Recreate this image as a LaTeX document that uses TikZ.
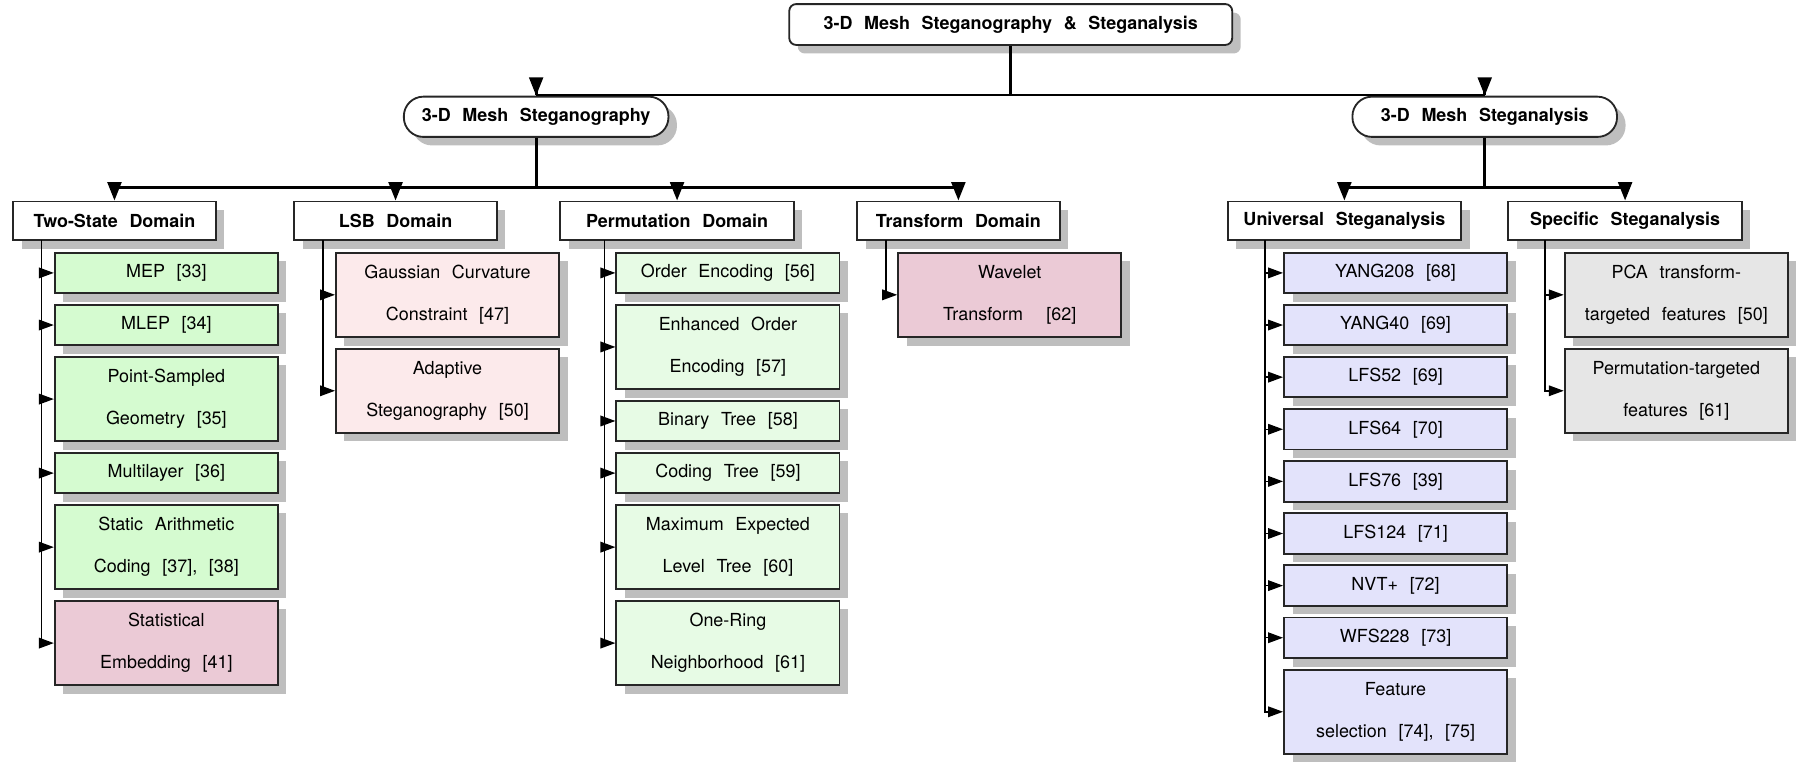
\documentclass[tikz,border=0pt]{standalone}
\usepackage{fontspec}
\setmainfont{TeX Gyre Heros}
\usetikzlibrary{arrows.meta,shadows}
\definecolor{tsgreen}{RGB}{213,251,208}
\definecolor{permgreen}{RGB}{231,251,229}
\definecolor{lsbpink}{RGB}{252,234,235}
\definecolor{mauve}{RGB}{235,202,214}
\definecolor{lav}{RGB}{227,227,251}
\definecolor{lgray}{RGB}{230,230,230}
\definecolor{shadowgray}{RGB}{190,190,190}
\newcommand{\mynodefont}{\fontsize{7.8}{18.25}\selectfont\frenchspacing\spaceskip=0.65em\relax}
\tikzset{
  boxbase/.style={draw=black!85, line width=0.8pt, inner sep=0pt, align=center,
    font=\mynodefont,
    drop shadow={shadow xshift=3.7pt, shadow yshift=-3.7pt, fill=shadowgray, opacity=1}},
  rootbox/.style={boxbase, fill=white, rounded corners=3pt, minimum width=192.5pt,
    minimum height=17.75pt, font=\mynodefont\bfseries},
  pill/.style={boxbase, fill=white, rounded corners=8.5pt, minimum width=115pt,
    minimum height=17.5pt, font=\mynodefont\bfseries},
  catS/.style={boxbase, fill=white, minimum width=88pt, minimum height=16.9pt,
    font=\mynodefont\bfseries},
  catL/.style={catS, minimum width=101.5pt},
  leafS/.style={boxbase, minimum width=97pt, minimum height=17.6pt},
  leafD/.style={boxbase, minimum width=97pt, minimum height=36.65pt},
  mainline/.style={line width=1.2pt, black},
  mainarrow/.style={mainline, -{Triangle[length=8pt,width=6pt]}},
  leafarrow/.style={line width=0.65pt, black, -{Triangle[length=6.5pt,width=4.6pt]}}
}
\begin{document}
\begin{tikzpicture}[x=0.5pt,y=-0.5pt]
\useasboundingbox (0,0) rectangle (1568,671);

% root and level 1
\node[rootbox] (root) at (878.5,21.3) {3-D Mesh Steganography \& Steganalysis};
\node[pill] (stego) at (466,101.5) {3-D Mesh Steganography};
\node[pill] (ana) at (1290.5,101.5) {3-D Mesh Steganalysis};

% level 2
\node[catS] (ts) at (99.5,192) {Two-State Domain};
\node[catS] (lsb) at (343.8,192) {LSB Domain};
\node[catL] (perm) at (588.5,192) {Permutation Domain};
\node[catS] (tr) at (833,192) {Transform Domain};
\node[catL] (uni) at (1168.5,192) {Universal Steganalysis};
\node[catL] (spec) at (1412.5,192) {Specific Steganalysis};

% Two-State leaves
\node[leafS, fill=tsgreen] (mep) at (144.6,237.2) {MEP [33]};
\node[leafS, fill=tsgreen] (mlep) at (144.6,282.5) {MLEP [34]};
\node[leafD, fill=tsgreen] (psg) at (144.6,346.85) {Point-Sampled\\Geometry [35]};
\node[leafS, fill=tsgreen] (ml) at (144.6,411.2) {Multilayer [36]};
\node[leafD, fill=tsgreen] (sac) at (144.6,475.55) {Static Arithmetic\\Coding [37], [38]};
\node[leafD, fill=mauve] (se) at (144.6,558.95) {Statistical\\Embedding [41]};

% LSB leaves
\node[leafD, fill=lsbpink] (gcc) at (389,256.25) {Gaussian Curvature\\Constraint [47]};
\node[leafD, fill=lsbpink] (ads) at (389,339.65) {Adaptive\\Steganography [50]};

% Permutation leaves
\node[leafS, fill=permgreen] (oe) at (632.7,237.2) {Order Encoding [56]};
\node[leafD, fill=permgreen] (eoe) at (632.7,301.55) {Enhanced Order\\Encoding [57]};
\node[leafS, fill=permgreen] (bt) at (632.7,365.9) {Binary Tree [58]};
\node[leafS, fill=permgreen] (ct) at (632.7,411.2) {Coding Tree [59]};
\node[leafD, fill=permgreen] (mel) at (632.7,475.55) {Maximum Expected\\Level Tree [60]};
\node[leafD, fill=permgreen] (orn) at (632.7,558.95) {One-Ring\\Neighborhood [61]};

% Transform leaf
\node[leafD, fill=mauve] (wt) at (877.6,256.25) {Wavelet\\Transform\ \ [62]};

% Universal leaves
\node[leafS, fill=lav] (y208) at (1213,237.2) {YANG208 [68]};
\node[leafS, fill=lav] (y40) at (1213,282.5) {YANG40 [69]};
\node[leafS, fill=lav] (l52) at (1213,327.8) {LFS52 [69]};
\node[leafS, fill=lav] (l64) at (1213,373.1) {LFS64 [70]};
\node[leafS, fill=lav] (l76) at (1213,418.4) {LFS76 [39]};
\node[leafS, fill=lav] (l124) at (1213,463.7) {LFS124 [71]};
\node[leafS, fill=lav] (nvt) at (1213,509.0) {NVT+ [72]};
\node[leafS, fill=lav] (w228) at (1213,554.3) {WFS228 [73]};
\node[leafD, fill=lav] (fs) at (1213,618.65) {Feature\\selection [74], [75]};

% Specific leaves
\node[leafD, fill=lgray] (pca) at (1457,256.25) {PCA transform-\\targeted features [50]};
\node[leafD, fill=lgray] (ptf) at (1457,339.65) {Permutation-targeted\\features [61]};

% junctions
\coordinate (j0) at (878.5,82.6);
\coordinate (j1) at (466,162.8);
\coordinate (j2) at (1290.5,162.8);
\coordinate (tsv) at (36,208.9);
\coordinate (lsbv) at (280.7,208.9);
\coordinate (permv) at (525.4,208.9);
\coordinate (trv) at (770,208.9);
\coordinate (univ) at (1099.5,208.9);
\coordinate (specv) at (1343,208.9);

% main connectors
\draw[mainline] (root.south) -- (j0);
\draw[mainline] (stego.north |- j0) -- (ana.north |- j0);
\draw[mainarrow] (stego.north |- j0) -- (stego.north);
\draw[mainarrow] (ana.north |- j0) -- (ana.north);

\draw[mainline] (stego.south) -- (j1);
\draw[mainline] (ts.north |- j1) -- (tr.north |- j1);
\foreach \n in {ts,lsb,perm,tr} \draw[mainarrow] (\n.north |- j1) -- (\n.north);

\draw[mainline] (ana.south) -- (j2);
\draw[mainline] (uni.north |- j2) -- (spec.north |- j2);
\foreach \n in {uni,spec} \draw[mainarrow] (\n.north |- j2) -- (\n.north);

% leaf connectors
\foreach \n in {mep,mlep,psg,ml,sac,se} \draw[leafarrow] (tsv) |- (\n.west);
\foreach \n in {gcc,ads} \draw[leafarrow] (lsbv) |- (\n.west);
\foreach \n in {oe,eoe,bt,ct,mel,orn} \draw[leafarrow] (permv) |- (\n.west);
\draw[leafarrow] (trv) |- (wt.west);
\foreach \n in {y208,y40,l52,l64,l76,l124,nvt,w228,fs} \draw[leafarrow] (univ) |- (\n.west);
\foreach \n in {pca,ptf} \draw[leafarrow] (specv) |- (\n.west);
\end{tikzpicture}
\end{document}
